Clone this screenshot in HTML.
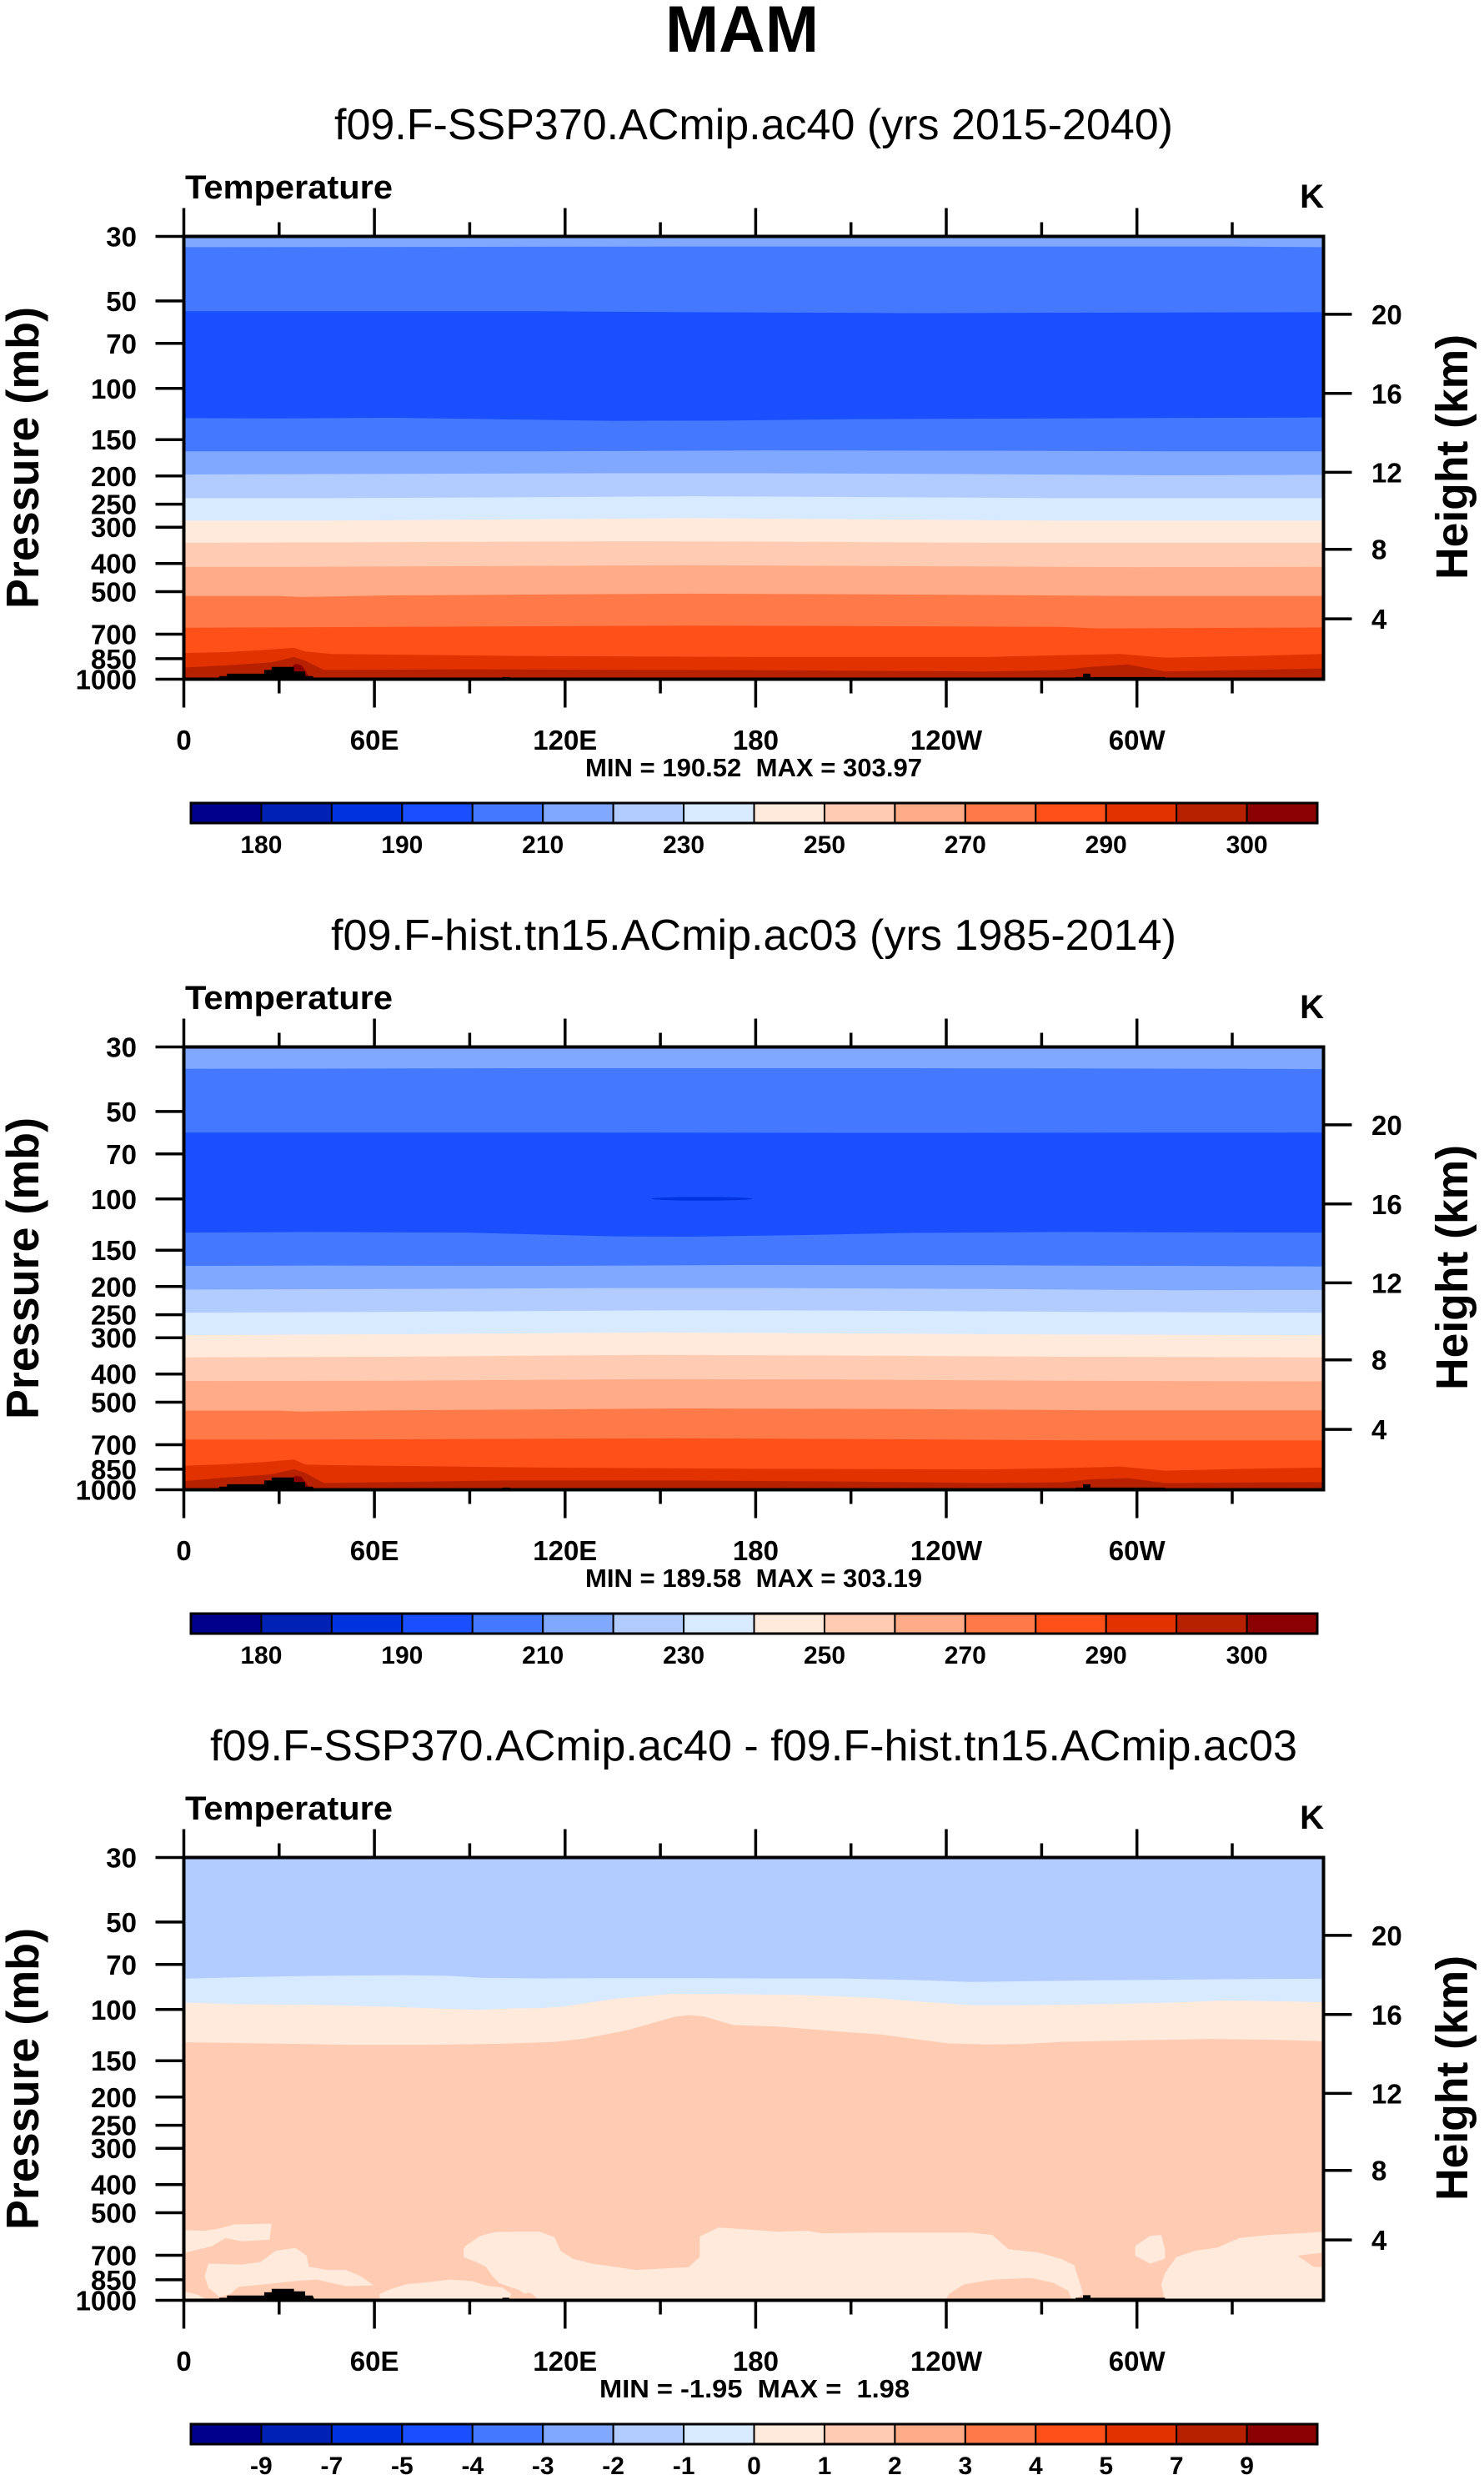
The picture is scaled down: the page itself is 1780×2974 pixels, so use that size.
<!DOCTYPE html>
<html><head><meta charset="utf-8"><style>
html,body{margin:0;padding:0;background:#fff;}
svg{display:block;}
text{font-family:"Liberation Sans",Arial,Helvetica,sans-serif;fill:#000;}
.b{font-weight:bold;}
.tl{font-size:33px;font-weight:bold;}
.cb{font-size:30px;font-weight:bold;text-anchor:middle;}
</style></head><body>
<svg width="1780" height="2974" viewBox="0 0 1780 2974" xmlns="http://www.w3.org/2000/svg">
<defs>
<g id="ticks" stroke="#000" stroke-width="3.5" fill="none">
<path d="M220.5 283.5V249.5M449.1 283.5V249.5M677.8 283.5V249.5M906.4 283.5V249.5M1135 283.5V249.5M1363.7 283.5V249.5M334.8 283.5V266.5M563.4 283.5V266.5M792.1 283.5V266.5M1020.7 283.5V266.5M1249.4 283.5V266.5M1478 283.5V266.5"/>
<path d="M220.5 814.5V848.5M449.1 814.5V848.5M677.8 814.5V848.5M906.4 814.5V848.5M1135 814.5V848.5M1363.7 814.5V848.5M334.8 814.5V831.5M563.4 814.5V831.5M792.1 814.5V831.5M1020.7 814.5V831.5M1249.4 814.5V831.5M1478 814.5V831.5"/>
<path d="M220.5 283.5H186.5M220.5 360.9H186.5M220.5 411.8H186.5M220.5 465.8H186.5M220.5 527.2H186.5M220.5 570.8H186.5M220.5 604.6H186.5M220.5 632.2H186.5M220.5 675.7H186.5M220.5 709.5H186.5M220.5 760.5H186.5M220.5 789.9H186.5M220.5 814.5H186.5"/>
<path d="M1587.5 376.9H1621.5M1587.5 471.8H1621.5M1587.5 566.4H1621.5M1587.5 658.7H1621.5M1587.5 742.1H1621.5"/>
<rect x="220.5" y="283.5" width="1367" height="531" stroke-width="4"/>
</g>
<g id="cbar" stroke="#000">
<rect x="229" y="963" width="84.44" height="24" fill="#00008c" stroke-width="2"/>
<rect x="313.44" y="963" width="84.44" height="24" fill="#0021b5" stroke-width="2"/>
<rect x="397.88" y="963" width="84.44" height="24" fill="#0033e0" stroke-width="2"/>
<rect x="482.32" y="963" width="84.44" height="24" fill="#1a4fff" stroke-width="2"/>
<rect x="566.76" y="963" width="84.44" height="24" fill="#4479ff" stroke-width="2"/>
<rect x="651.2" y="963" width="84.44" height="24" fill="#80a8ff" stroke-width="2"/>
<rect x="735.64" y="963" width="84.44" height="24" fill="#b3ccff" stroke-width="2"/>
<rect x="820.08" y="963" width="84.44" height="24" fill="#d7eaff" stroke-width="2"/>
<rect x="904.52" y="963" width="84.44" height="24" fill="#ffeadb" stroke-width="2"/>
<rect x="988.96" y="963" width="84.44" height="24" fill="#ffccb3" stroke-width="2"/>
<rect x="1073.4" y="963" width="84.44" height="24" fill="#ffab88" stroke-width="2"/>
<rect x="1157.84" y="963" width="84.44" height="24" fill="#ff7a48" stroke-width="2"/>
<rect x="1242.28" y="963" width="84.44" height="24" fill="#ff5019" stroke-width="2"/>
<rect x="1326.72" y="963" width="84.44" height="24" fill="#e23200" stroke-width="2"/>
<rect x="1411.16" y="963" width="84.44" height="24" fill="#b82100" stroke-width="2"/>
<rect x="1495.6" y="963" width="84.4" height="24" fill="#8b0000" stroke-width="2"/>
<rect x="229" y="963" width="1351" height="24" fill="none" stroke-width="3"/>
</g>
</defs>

<text x="890" y="62" class="b" font-size="79" text-anchor="middle" textLength="184" lengthAdjust="spacingAndGlyphs">MAM</text>

<!-- ================= PANEL 1 ================= -->
<g>
<text x="904" y="167" font-size="52" text-anchor="middle" textLength="1006" lengthAdjust="spacingAndGlyphs">f09.F-SSP370.ACmip.ac40 (yrs 2015-2040)</text>
<text x="222" y="238" class="b" font-size="40" textLength="249" lengthAdjust="spacingAndGlyphs">Temperature</text>
<text x="1588" y="249" class="b" font-size="40" text-anchor="end">K</text>
<svg x="220.5" y="283.5" width="1367" height="531" viewBox="22 62 1531 1438" preserveAspectRatio="none">
<rect x="0" y="0" width="1600" height="1600" fill="#80a8ff"/>
<polygon fill="#4479ff" points="0,97 22,97 700,95 1430,95 1553,97 1600,97 1600,1600 0,1600"/>
<polygon fill="#1a4fff" points="0,305 22,305 500,305 700,308 1000,311 1553,308 1600,308 1600,1600 0,1600"/>
<polygon fill="#4479ff" points="0,652 22,652 150,653 300,651 450,656 600,661 750,660 900,656 1100,654 1300,652 1553,650 1600,650 1600,1600 0,1600"/>
<polygon fill="#80a8ff" points="0,760 22,760 200,760 500,760 800,757 1100,758 1350,760 1553,760 1600,760 1600,1600 0,1600"/>
<polygon fill="#b3ccff" points="0,835 22,835 300,833 600,831 800,831 1100,834 1350,838 1553,836 1600,836 1600,1600 0,1600"/>
<polygon fill="#d7eaff" points="0,912 22,912 200,912 400,910 700,906 900,908 1200,912 1553,912 1600,912 1600,1600 0,1600"/>
<polygon fill="#ffeadb" points="0,985 22,985 200,985 400,982 700,977 900,980 1200,985 1553,985 1600,985 1600,1600 0,1600"/>
<polygon fill="#ffccb3" points="0,1057 22,1057 300,1055 600,1052 800,1053 1100,1057 1553,1057 1600,1057 1600,1600 0,1600"/>
<polygon fill="#ffab88" points="0,1135 22,1135 170,1135 400,1133 700,1130 1000,1133 1300,1136 1553,1135 1600,1135 1600,1600 0,1600"/>
<polygon fill="#ff7a48" points="0,1230 22,1230 150,1230 180,1233 300,1228 700,1222 1000,1225 1300,1230 1553,1230 1600,1230 1600,1600 0,1600"/>
<polygon fill="#ff5019" points="0,1333 22,1333 300,1330 700,1326 1000,1328 1200,1330 1250,1335 1553,1332 1600,1332 1600,1600 0,1600"/>
<polygon fill="#e23200" points="0,1415 22,1415 80,1412 130,1405 170,1398 185,1410 220,1418 500,1425 800,1428 1100,1428 1200,1422 1280,1418 1340,1430 1450,1425 1553,1418 1600,1418 1600,1600 0,1600"/>
<polygon fill="#b82100" points="0,1462 22,1462 80,1455 140,1445 170,1428 185,1440 210,1470 400,1468 700,1470 900,1472 1100,1475 1200,1470 1240,1460 1290,1452 1340,1475 1450,1470 1553,1465 1600,1465 1600,1600 0,1600"/>
<polygon fill="#8b0000" points="160,1500 165,1465 172,1450 180,1455 186,1475 192,1500"/>
<polygon fill="#000" points="65,1510 70,1490 80,1490 80,1482 130,1482 130,1470 140,1470 140,1460 170,1460 170,1475 185,1475 185,1490 195,1490 200,1510"/>
<rect x="450" y="1493" width="10" height="17" fill="#000"/>
<polygon fill="#000" points="1220,1510 1220,1493 1230,1493 1230,1482 1240,1482 1240,1493 1340,1493 1340,1510"/>
</svg>
<use href="#ticks"/>
<g class="tl" text-anchor="end">
<text x="164" y="295.5">30</text><text x="164" y="372.9">50</text><text x="164" y="423.8">70</text><text x="164" y="477.8">100</text><text x="164" y="539.2">150</text><text x="164" y="582.8">200</text><text x="164" y="616.6">250</text><text x="164" y="644.2">300</text><text x="164" y="687.7">400</text><text x="164" y="721.5">500</text><text x="164" y="772.5">700</text><text x="164" y="801.9">850</text><text x="164" y="826.5">1000</text>
</g>
<g class="tl">
<text x="1645" y="388.9">20</text><text x="1645" y="483.8">16</text><text x="1645" y="578.4">12</text><text x="1645" y="670.7">8</text><text x="1645" y="754.1">4</text>
</g>
<g class="tl" text-anchor="middle">
<text x="220.5" y="899">0</text><text x="449.1" y="899">60E</text><text x="677.8" y="899">120E</text><text x="906.4" y="899">180</text><text x="1135" y="899">120W</text><text x="1363.7" y="899">60W</text>
</g>
<text x="904" y="931" class="b" font-size="31" text-anchor="middle" textLength="404" lengthAdjust="spacingAndGlyphs" xml:space="preserve">MIN = 190.52  MAX = 303.97</text>
<use href="#cbar"/>
<g class="cb">
<text x="313.4" y="1023">180</text><text x="482.3" y="1023">190</text><text x="651.2" y="1023">210</text><text x="820.1" y="1023">230</text><text x="989" y="1023">250</text><text x="1157.8" y="1023">270</text><text x="1326.7" y="1023">290</text><text x="1495.6" y="1023">300</text>
</g>
<text transform="translate(46,549) rotate(-90)" class="b" font-size="55" text-anchor="middle" textLength="362" lengthAdjust="spacingAndGlyphs">Pressure (mb)</text>
<text transform="translate(1760,548) rotate(-90)" class="b" font-size="54" text-anchor="middle" textLength="294" lengthAdjust="spacingAndGlyphs">Height (km)</text>
</g>

<!-- ================= PANEL 2 ================= -->
<g transform="translate(0,972)">
<text x="904" y="167" font-size="52" text-anchor="middle" textLength="1014" lengthAdjust="spacingAndGlyphs">f09.F-hist.tn15.ACmip.ac03 (yrs 1985-2014)</text>
<text x="222" y="238" class="b" font-size="40" textLength="249" lengthAdjust="spacingAndGlyphs">Temperature</text>
<text x="1588" y="249" class="b" font-size="40" text-anchor="end">K</text>
<svg x="220.5" y="283.5" width="1367" height="531" viewBox="22 62 1531 1438" preserveAspectRatio="none">
<rect x="0" y="0" width="1600" height="1600" fill="#80a8ff"/>
<polygon fill="#4479ff" points="0,133 22,133 500,131 1000,131 1460,133 1553,134 1600,134 1600,1600 0,1600"/>
<polygon fill="#1a4fff" points="0,340 22,340 500,340 1000,341 1553,340 1600,340 1600,1600 0,1600"/>
<ellipse cx="718" cy="555" rx="68" ry="6" fill="#0033e0"/>
<polygon fill="#4479ff" points="0,665 22,665 200,663 400,665 600,677 700,678 850,673 1000,666 1200,663 1553,665 1600,665 1600,1600 0,1600"/>
<polygon fill="#80a8ff" points="0,773 22,773 200,772 500,773 800,770 1100,771 1350,773 1553,775 1600,775 1600,1600 0,1600"/>
<polygon fill="#b3ccff" points="0,850 22,850 300,848 600,845 800,845 1100,848 1350,852 1553,851 1600,851 1600,1600 0,1600"/>
<polygon fill="#d7eaff" points="0,925 22,925 300,922 700,917 900,918 1200,922 1553,925 1600,925 1600,1600 0,1600"/>
<polygon fill="#ffeadb" points="0,998 22,998 300,995 650,989 900,992 1200,996 1553,998 1600,998 1600,1600 0,1600"/>
<polygon fill="#ffccb3" points="0,1070 22,1070 300,1068 650,1062 900,1064 1200,1068 1553,1070 1600,1070 1600,1600 0,1600"/>
<polygon fill="#ffab88" points="0,1147 22,1147 300,1146 650,1141 900,1142 1200,1146 1553,1148 1600,1148 1600,1600 0,1600"/>
<polygon fill="#ff7a48" points="0,1243 22,1243 150,1243 180,1246 300,1242 700,1236 1000,1238 1250,1242 1553,1242 1600,1242 1600,1600 0,1600"/>
<polygon fill="#ff5019" points="0,1337 22,1337 300,1336 700,1333 1000,1336 1250,1340 1553,1340 1600,1340 1600,1600 0,1600"/>
<polygon fill="#e23200" points="0,1422 22,1422 80,1417 130,1410 170,1402 185,1418 220,1420 500,1428 800,1432 1100,1434 1200,1430 1280,1425 1340,1438 1450,1432 1553,1428 1600,1428 1600,1600 0,1600"/>
<polygon fill="#b82100" points="0,1472 22,1472 80,1460 140,1450 170,1433 185,1445 210,1478 450,1470 700,1470 900,1473 1100,1478 1200,1476 1240,1466 1290,1462 1340,1478 1553,1475 1600,1475 1600,1600 0,1600"/>
<polygon fill="#8b0000" points="160,1500 165,1468 172,1455 180,1458 186,1478 192,1500"/>
<polygon fill="#000" points="65,1510 70,1490 80,1490 80,1482 130,1482 130,1470 140,1470 140,1460 170,1460 170,1475 185,1475 185,1490 195,1490 200,1510"/>
<rect x="450" y="1493" width="10" height="17" fill="#000"/>
<polygon fill="#000" points="1220,1510 1220,1493 1230,1493 1230,1482 1240,1482 1240,1493 1340,1493 1340,1510"/>
</svg>
<use href="#ticks"/>
<g class="tl" text-anchor="end">
<text x="164" y="295.5">30</text><text x="164" y="372.9">50</text><text x="164" y="423.8">70</text><text x="164" y="477.8">100</text><text x="164" y="539.2">150</text><text x="164" y="582.8">200</text><text x="164" y="616.6">250</text><text x="164" y="644.2">300</text><text x="164" y="687.7">400</text><text x="164" y="721.5">500</text><text x="164" y="772.5">700</text><text x="164" y="801.9">850</text><text x="164" y="826.5">1000</text>
</g>
<g class="tl">
<text x="1645" y="388.9">20</text><text x="1645" y="483.8">16</text><text x="1645" y="578.4">12</text><text x="1645" y="670.7">8</text><text x="1645" y="754.1">4</text>
</g>
<g class="tl" text-anchor="middle">
<text x="220.5" y="899">0</text><text x="449.1" y="899">60E</text><text x="677.8" y="899">120E</text><text x="906.4" y="899">180</text><text x="1135" y="899">120W</text><text x="1363.7" y="899">60W</text>
</g>
<text x="904" y="931" class="b" font-size="31" text-anchor="middle" textLength="404" lengthAdjust="spacingAndGlyphs" xml:space="preserve">MIN = 189.58  MAX = 303.19</text>
<use href="#cbar"/>
<g class="cb">
<text x="313.4" y="1023">180</text><text x="482.3" y="1023">190</text><text x="651.2" y="1023">210</text><text x="820.1" y="1023">230</text><text x="989" y="1023">250</text><text x="1157.8" y="1023">270</text><text x="1326.7" y="1023">290</text><text x="1495.6" y="1023">300</text>
</g>
<text transform="translate(46,549) rotate(-90)" class="b" font-size="55" text-anchor="middle" textLength="362" lengthAdjust="spacingAndGlyphs">Pressure (mb)</text>
<text transform="translate(1760,548) rotate(-90)" class="b" font-size="54" text-anchor="middle" textLength="294" lengthAdjust="spacingAndGlyphs">Height (km)</text>
</g>

<!-- ================= PANEL 3 ================= -->
<g transform="translate(0,1944)">
<text x="904" y="167" font-size="52" text-anchor="middle" textLength="1304" lengthAdjust="spacingAndGlyphs">f09.F-SSP370.ACmip.ac40 - f09.F-hist.tn15.ACmip.ac03</text>
<text x="222" y="238" class="b" font-size="40" textLength="249" lengthAdjust="spacingAndGlyphs">Temperature</text>
<text x="1588" y="249" class="b" font-size="40" text-anchor="end">K</text>
<svg x="220.5" y="283.5" width="1367" height="531" viewBox="22 72 1531 1388" preserveAspectRatio="none">
<rect x="0" y="0" width="1600" height="1600" fill="#b3ccff"/>
<polygon fill="#d7eaff" points="0,452 22,452 100,447 200,443 320,441 380,443 420,449 500,451 600,450 700,450 800,451 900,451 1000,456 1080,462 1150,460 1250,457 1350,455 1450,453 1553,452 1600,452 1600,1600 0,1600"/>
<polygon fill="#ffeadb" points="0,527 22,527 100,532 200,534 300,540 420,550 460,545 500,544 530,540 600,515 680,499 750,500 850,503 950,512 1000,522 1080,535 1150,535 1250,532 1350,527 1420,520 1500,523 1553,526 1600,526 1600,1600 0,1600"/>
<polygon fill="#ffccb3" points="0,651 22,651 100,654 250,659 350,659 450,656 520,650 560,640 620,612 680,572 700,566 720,570 760,597 820,602 900,617 960,627 1000,640 1050,655 1100,658 1150,657 1200,650 1300,645 1400,641 1480,643 1553,648 1600,648 1600,1600 0,1600"/>
<g fill="#ffeadb">
<polygon points="0,1240 22,1240 50,1242 70,1235 90,1222 140,1220 137,1270 100,1275 78,1265 60,1290 22,1312 0,1312"/>
<polygon points="55,1345 100,1348 125,1340 145,1305 172,1296 187,1320 190,1355 215,1365 240,1365 260,1385 277,1413 240,1416 200,1395 170,1400 130,1410 95,1418 85,1440 70,1450 55,1420 50,1385"/>
<polygon points="0,1430 22,1432 40,1442 55,1460 0,1460"/>
<polygon points="285,1440 300,1425 320,1410 350,1403 380,1395 410,1400 430,1415 450,1420 462,1440 458,1460 285,1460"/>
<polygon points="470,1400 490,1402 495,1425 480,1440 470,1425"/>
<polygon points="400,1290 420,1258 440,1246 470,1245 500,1245 520,1262 528,1305 545,1330 570,1345 600,1355 630,1365 700,1356 715,1325 715,1260 740,1232 780,1238 820,1245 860,1242 880,1250 950,1248 1080,1248 1108,1255 1130,1300 1170,1310 1200,1330 1218,1350 1225,1400 1230,1440 1218,1460 500,1460 490,1440 480,1432 462,1420 445,1405 435,1380 428,1355 415,1340 398,1325 398,1300"/>
<polygon points="1300,1290 1320,1258 1335,1255 1340,1300 1340,1330 1320,1345 1300,1320"/>
<polygon points="1340,1375 1355,1325 1380,1305 1410,1295 1440,1265 1480,1255 1520,1250 1553,1245 1600,1245 1600,1460 1340,1460 1335,1410"/>
</g>
<g fill="#ffccb3">
<polygon points="1045,1460 1050,1440 1070,1410 1110,1395 1160,1390 1190,1405 1210,1430 1215,1460"/>
<polygon points="1518,1320 1553,1310 1600,1310 1600,1360 1540,1355"/>
</g>
<polygon fill="#000" points="65,1470 70,1452 80,1452 80,1445 130,1445 130,1435 140,1435 140,1424 170,1424 170,1432 185,1432 185,1445 195,1445 200,1470"/>
<rect x="450" y="1452" width="9" height="18" fill="#000"/>
<polygon fill="#000" points="1220,1470 1220,1452 1230,1452 1230,1444 1240,1444 1240,1452 1340,1452 1340,1470"/>
</svg>
<use href="#ticks"/>
<g class="tl" text-anchor="end">
<text x="164" y="295.5">30</text><text x="164" y="372.9">50</text><text x="164" y="423.8">70</text><text x="164" y="477.8">100</text><text x="164" y="539.2">150</text><text x="164" y="582.8">200</text><text x="164" y="616.6">250</text><text x="164" y="644.2">300</text><text x="164" y="687.7">400</text><text x="164" y="721.5">500</text><text x="164" y="772.5">700</text><text x="164" y="801.9">850</text><text x="164" y="826.5">1000</text>
</g>
<g class="tl">
<text x="1645" y="388.9">20</text><text x="1645" y="483.8">16</text><text x="1645" y="578.4">12</text><text x="1645" y="670.7">8</text><text x="1645" y="754.1">4</text>
</g>
<g class="tl" text-anchor="middle">
<text x="220.5" y="899">0</text><text x="449.1" y="899">60E</text><text x="677.8" y="899">120E</text><text x="906.4" y="899">180</text><text x="1135" y="899">120W</text><text x="1363.7" y="899">60W</text>
</g>
<text x="905" y="931" class="b" font-size="31" text-anchor="middle" textLength="372" lengthAdjust="spacingAndGlyphs" xml:space="preserve">MIN = -1.95  MAX =  1.98</text>
<use href="#cbar"/>
<g class="cb">
<text x="313.4" y="1023">-9</text><text x="397.9" y="1023">-7</text><text x="482.3" y="1023">-5</text><text x="566.8" y="1023">-4</text><text x="651.2" y="1023">-3</text><text x="735.6" y="1023">-2</text><text x="820.1" y="1023">-1</text><text x="904.5" y="1023">0</text><text x="989" y="1023">1</text><text x="1073.4" y="1023">2</text><text x="1157.8" y="1023">3</text><text x="1242.3" y="1023">4</text><text x="1326.7" y="1023">5</text><text x="1411.2" y="1023">7</text><text x="1495.6" y="1023">9</text>
</g>
<text transform="translate(46,549) rotate(-90)" class="b" font-size="55" text-anchor="middle" textLength="362" lengthAdjust="spacingAndGlyphs">Pressure (mb)</text>
<text transform="translate(1760,548) rotate(-90)" class="b" font-size="54" text-anchor="middle" textLength="294" lengthAdjust="spacingAndGlyphs">Height (km)</text>
</g>
</svg>
</body></html>
